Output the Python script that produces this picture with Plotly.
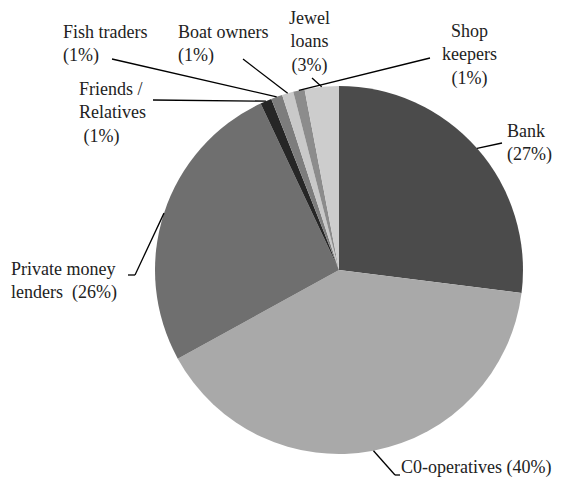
import math
import plotly.graph_objects as go

categories = ["Bank", "C0-operatives", "Private money lenders", "Friends / Relatives",
              "Fish traders", "Boat owners", "Shop keepers", "Jewel loans"]
values = [27, 40, 26, 1, 1, 1, 1, 3]
label_texts = ["Bank<br>(27%)", "C0-operatives (40%)", "Private money<br>lenders  (26%)",
               "Friends /<br>Relatives<br> (1%)", "Fish traders<br>(1%)", "Boat owners<br>(1%)",
               "Shop<br>keepers<br>(1%)", "Jewel<br>loans<br>(3%)"]
colors = ["#4b4b4b", "#a9a9a9", "#6f6f6f", "#262626", "#7d7d7d", "#c9c9c9", "#8c8c8c", "#cdcdcd"]

W, H = 563, 483
OFF = 8  # page body margin
CX, CY, R = 339, 270, 184

# label placement (pixels in the screenshot): x, y (center of text block), align, elbow point
label_pos = [
    (505, 143, "left", (502, 143)),
    (399, 467, "left", (395, 475)),
    (9, 281, "left", (135, 275)),
    (77, 113, "left", (153, 100)),
    (61, 44, "left", (112, 59)),
    (176, 44, "left", (243, 59)),
    (440, 55, "center", (430, 58)),
    (287, 42, "center", (312, 78)),
]


def px(x):
    return (x - OFF) / W


def py(y):
    return 1 - (y - OFF) / H


fig = go.Figure(go.Pie(
    labels=categories, values=values, sort=False, direction="clockwise", rotation=0,
    marker=dict(colors=colors, line=dict(width=0)),
    textinfo="none", hoverinfo="label+percent", showlegend=False,
    domain=dict(x=[px(CX - R), px(CX + R)], y=[py(CY + R), py(CY - R)]),
))

total = sum(values)
cum = 0
for v, txt, (lx, ly, al, elbow) in zip(values, label_texts, label_pos):
    mid = (cum + v / 2) / total * 2 * math.pi
    cum += v
    ax = CX + R * math.sin(mid)
    ay = CY - R * math.cos(mid)
    fig.add_shape(type="path",
                  path=f"M {px(ax)} {py(ay)} L {px(elbow[0])} {py(elbow[1])}",
                  xref="paper", yref="paper", line=dict(color="black", width=1.3))
    fig.add_annotation(x=px(lx), y=py(ly), xref="paper", yref="paper", text=txt,
                       showarrow=False, xanchor="left", yanchor="middle", align=al,
                       font=dict(family="Liberation Serif", size=18, color="#222"))

# small horizontal stubs for coop and private labels
fig.add_shape(type="line", x0=px(395), y0=py(475), x1=px(400), y1=py(475),
              xref="paper", yref="paper", line=dict(color="black", width=1.3))
fig.add_shape(type="line", x0=px(128), y0=py(275), x1=px(135), y1=py(275),
              xref="paper", yref="paper", line=dict(color="black", width=1.3))

fig.update_layout(width=W, height=H, margin=dict(l=0, r=0, t=0, b=0),
                  paper_bgcolor="white", plot_bgcolor="white")
fig.write_html("out.html")
